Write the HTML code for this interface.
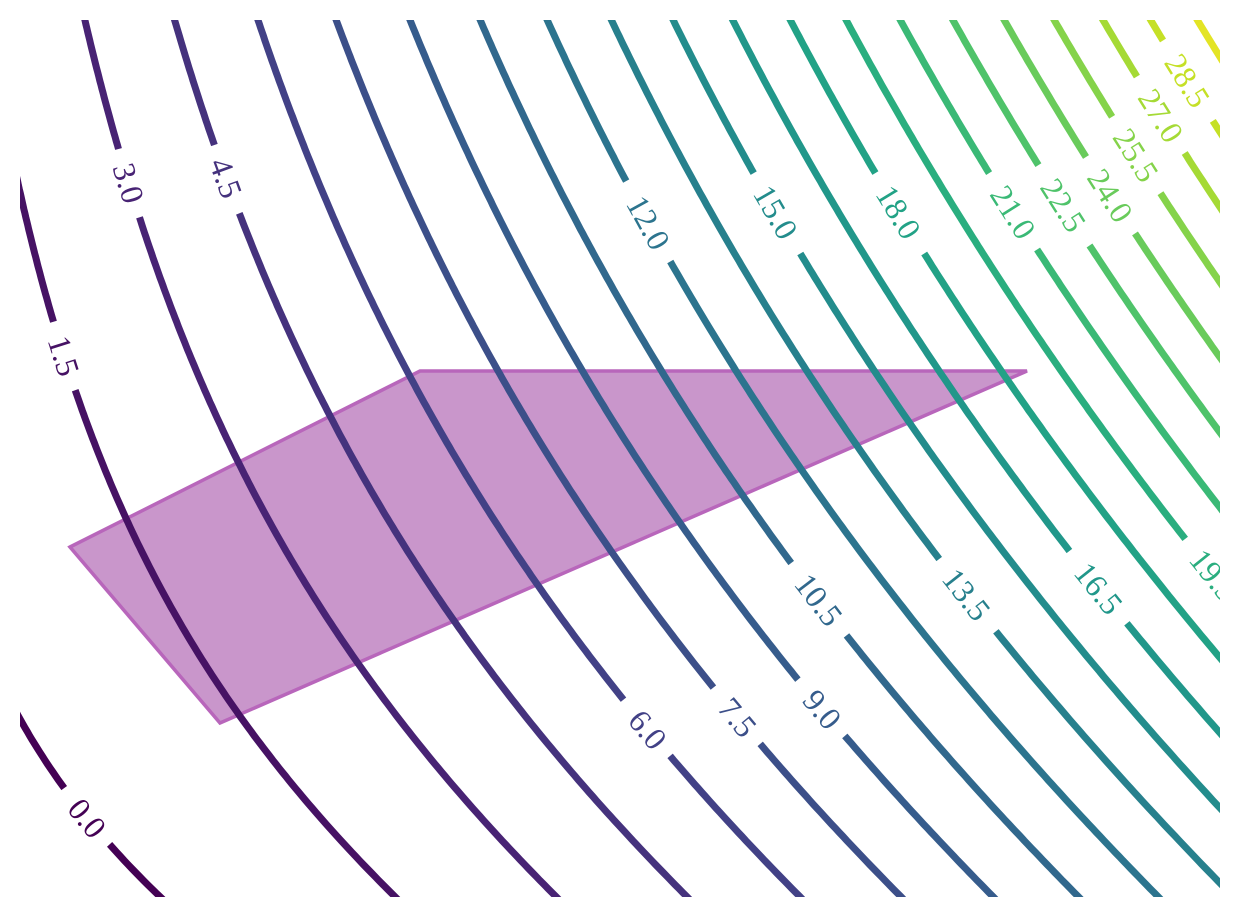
<!DOCTYPE html>
<html><head><meta charset="utf-8"><style>
html,body{margin:0;padding:0;background:#fff;width:1240px;height:920px;overflow:hidden}
svg{display:block}
text{font-family:"Liberation Serif","DejaVu Serif",serif;font-size:32px}
</style></head><body>
<svg id="chart" width="1240" height="920" viewBox="0 0 1240 920">
<defs><clipPath id="clipArea"><rect x="20" y="20" width="1200" height="877"/></clipPath></defs>
<g id="plot" clip-path="url(#clipArea)">
<polygon points="70,547 420,371 1027,371 220,723" fill="#c996cb" stroke="#b866bb" stroke-width="3.5" stroke-linejoin="miter"/>
<g id="lines"></g>
<g id="labels"></g>
</g>
</svg>
<script>
// contour levels
const levels = [0.0,1.5,3.0,4.5,6.0,7.5,9.0,10.5,12.0,13.5,15.0,16.5,18.0,19.5,21.0,22.5,24.0,25.5,27.0,28.5,30.0];
// which levels carry an inline label, and where (vertical fraction of plot, 0=bottom)
const labelLevels = [0.0,1.5,3.0,4.5,6.0,7.5,9.0,10.5,12.0,13.5,15.0,16.5,18.0,19.5,21.0,22.5,24.0,25.5,27.0,28.5];
const labelAnchorV = [0.09,0.617,0.814,0.82,0.191,0.205,0.214,0.339,0.769,0.345,0.781,0.352,0.781,0.367,0.781,0.789,0.8,0.846,0.891,0.931];
// fitted surface coefficients z = A u^2 + B u v + C u + D v + E
const A=10.64,B=15.02,C=3.09,D=2.497,E=-0.507;
const X0=20,W=1200,Y0=897,H=877;
const vir=["#440154","#482475","#414487","#355f8d","#2a788e","#21918c","#22a884","#44bf70","#7ad151","#bddf26","#fde725"];
function hex(c){return [1,3,5].map(i=>parseInt(c.substr(i,2),16));}
function color(t){t=Math.max(0,Math.min(1,t));const f=t*10,i=Math.min(9,Math.floor(f)),r=f-i;const a=hex(vir[i]),b=hex(vir[i+1]);return "rgb("+a.map((x,k)=>Math.round(x+(b[k]-x)*r)).join(",")+")";}
function uOf(L,v){const b=C+B*v,c=D*v+E-L;return (-b+Math.sqrt(b*b-4*A*c))/(2*A);}
function sx(u){return X0+W*u;} function sy(v){return Y0-H*v;}
const lmin=levels[0],lmax=levels[levels.length-1];
const NS="http://www.w3.org/2000/svg";
const lg=document.getElementById('lines'),tg=document.getElementById('labels');
levels.forEach(L=>{
  const col=color((L-lmin)/(lmax-lmin)*0.96);
  const li=labelLevels.indexOf(L);
  let pts=[];
  for(let i=0;i<=240;i++){const v=-0.05+1.1*i/240;pts.push([sx(uOf(L,v)),sy(v)]);}
  let segs=[pts];
  if(li>=0){
    const v0=labelAnchorV[li];
    const cx=sx(uOf(L,v0)),cy=sy(v0);
    const half=(L>=10?44:34);
    const inGap=p=>Math.hypot(p[0]-cx,p[1]-cy)<half;
    segs=[];let cur=[];
    pts.forEach(p=>{if(inGap(p)){if(cur.length)segs.push(cur);cur=[];}else cur.push(p);});
    if(cur.length)segs.push(cur);
    const h=0.002;
    const x1=sx(uOf(L,v0+h)),y1=sy(v0+h),x2=sx(uOf(L,v0-h)),y2=sy(v0-h);
    const ang=Math.atan2(y2-y1,x2-x1)*180/Math.PI;
    const t=document.createElementNS(NS,'text');
    
    
    t.setAttribute('x',0);t.setAttribute('y',0);
    t.setAttribute('text-anchor','middle');t.setAttribute('dominant-baseline','central');
    t.setAttribute('fill',col);
    t.setAttribute('transform','translate('+cx+','+cy+') rotate('+ang+')');
    t.textContent=L.toFixed(1);
    tg.appendChild(t);
  }
  segs.forEach(s=>{
    if(s.length<2)return;
    const p=document.createElementNS(NS,'polyline');
    
    
    p.setAttribute('points',s.map(q=>q[0].toFixed(1)+','+q[1].toFixed(1)).join(' '));
    p.setAttribute('fill','none');p.setAttribute('stroke',col);p.setAttribute('stroke-width','7');
    p.setAttribute('stroke-linecap','butt');
    lg.appendChild(p);
  });
});
</script>
</body></html>
